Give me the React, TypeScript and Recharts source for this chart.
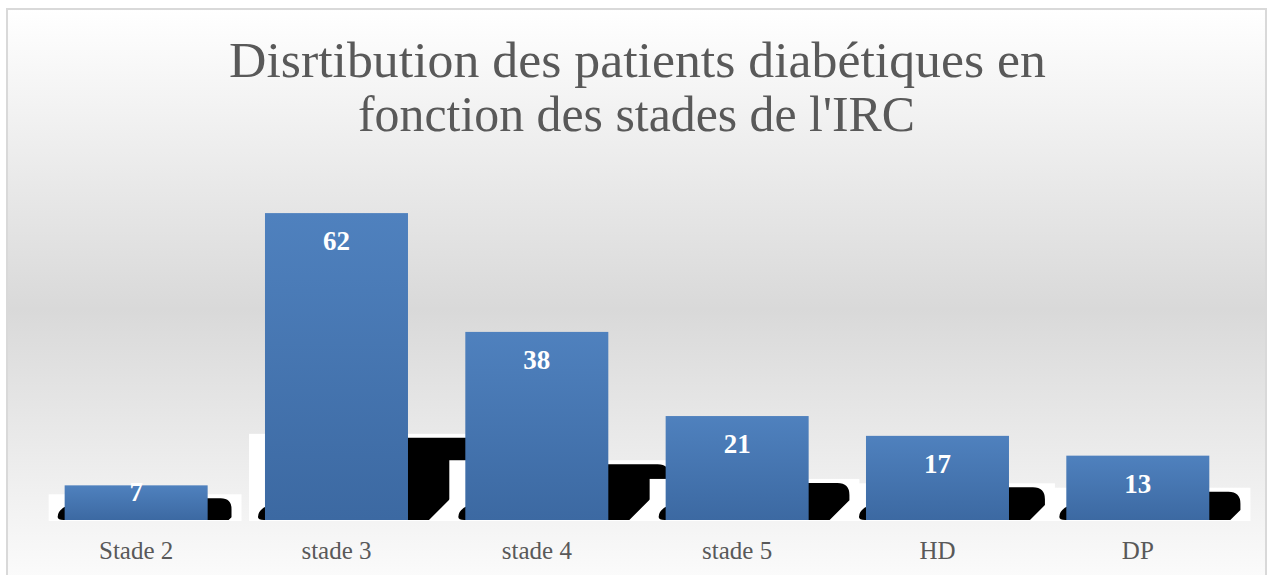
import React from 'react';
import { BarChart, Bar, XAxis, YAxis, LabelList } from 'recharts';

const categories = ['Stade 2', 'stade 3', 'stade 4', 'stade 5', 'HD', 'DP'];
const patients = [7, 62, 38, 21, 17, 13];
const titleLines = ["Disrtibution des patients diabétiques en", "fonction des stades de l'IRC"];

const data = categories.map((c, i) => ({ name: c, value: patients[i] }));

const W = 1268;
const H = 575;

const ShadowBar = (props: any) => {
  const { x, y, width, height } = props;
  const base = y + height;
  const sh = 14 + 0.222 * height;
  const top = base - sh;
  const x0 = x - 7;
  const xb = x + width + 21;
  const xr = x + width + 1.1 * sh;
  const r = Math.min(12, sh / 2);
  const diag = Math.max(0, Math.min(xr - xb, sh - r));
  const foot = Math.min(14, sh - 2);
  const path = `M ${x0 + 6} ${base} L ${xb} ${base} L ${xr} ${base - diag} L ${xr} ${top + r} Q ${xr} ${top} ${xr - r} ${top} L ${x + 2} ${top} L ${x + 2} ${base - foot} Q ${x0} ${base - foot + 4} ${x0} ${base - 3} Q ${x0} ${base} ${x0 + 6} ${base} Z`;
  return (
    <g>
      <rect x={x - 16} y={top - 4} width={xr - x + 26} height={sh + 5} fill="#ffffff" />
      <path d={path} fill="#000000" />
      <rect x={x} y={y} width={width} height={height} fill="url(#barGrad)" />
    </g>
  );
};

const renderLabel = (props: any) => {
  const { x, y, width, height, value } = props;
  const base = y + height;
  const by = Math.min(y + 37, base - 19);
  return (
    <text
      x={x + width / 2}
      y={by}
      textAnchor="middle"
      fill="#ffffff"
      fontFamily="'Liberation Serif', serif"
      fontWeight="bold"
      fontSize={27}
    >
      {value}
    </text>
  );
};

const renderTick = (props: any) => {
  const { x, y, payload } = props;
  return (
    <text
      x={x}
      y={y + 31}
      textAnchor="middle"
      fill="#595959"
      fontFamily="'Liberation Serif', serif"
      fontSize={25}
    >
      {payload.value}
    </text>
  );
};

export default function App() {
  return (
    <div style={{ position: 'fixed', left: 0, top: 0, width: W, height: H, overflow: 'hidden', background: '#ffffff' }}>
      <svg width={W} height={H} style={{ position: 'absolute', left: 0, top: 0 }}>
        <defs>
          <linearGradient id="bgGrad" x1="0" y1="0" x2="0" y2="1">
            <stop offset="0" stopColor="#ffffff" />
            <stop offset="0.5" stopColor="#d9d9d9" />
            <stop offset="1" stopColor="#ffffff" />
          </linearGradient>
        </defs>
        <rect x={7} y={9} width={1259} height={600} fill="url(#bgGrad)" stroke="#d9d9d9" strokeWidth={2} />
        <text
          x={637.5}
          y={77}
          textAnchor="middle"
          fill="#595959"
          fontFamily="'Liberation Serif', serif"
          fontSize={51}
          textLength={817}
          lengthAdjust="spacingAndGlyphs"
        >
          {titleLines[0]}
        </text>
        <text
          x={636.5}
          y={131}
          textAnchor="middle"
          fill="#595959"
          fontFamily="'Liberation Serif', serif"
          fontSize={51}
          textLength={557}
          lengthAdjust="spacingAndGlyphs"
        >
          {titleLines[1]}
        </text>
      </svg>
      <div style={{ position: 'absolute', left: 0, top: 0 }}>
        <BarChart
          width={W}
          height={H}
          data={data}
          margin={{ top: 173.5, right: 30, bottom: 15, left: 36 }}
          barCategoryGap="14.3%"
        >
          <defs>
            <linearGradient id="barGrad" x1="0" y1="0" x2="0" y2="1">
              <stop offset="0" stopColor="#4f81be" />
              <stop offset="1" stopColor="#3c69a2" />
            </linearGradient>
          </defs>
          <XAxis dataKey="name" axisLine={false} tickLine={false} height={40} tick={renderTick} interval={0} />
          <YAxis hide domain={[0, 70]} />
          <Bar dataKey="value" shape={ShadowBar} isAnimationActive={false}>
            <LabelList dataKey="value" content={renderLabel} />
          </Bar>
        </BarChart>
      </div>
    </div>
  );
}
